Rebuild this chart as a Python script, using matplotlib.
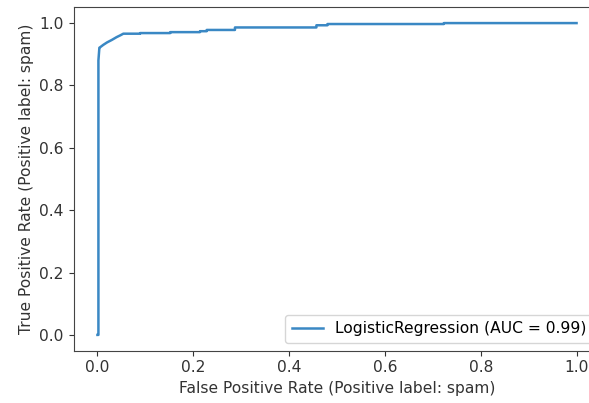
import matplotlib
matplotlib.use("Agg")
import matplotlib.pyplot as plt

fpr = [0.0, 0.002, 0.002, 0.004, 0.006, 0.012, 0.02, 0.03, 0.04, 0.048, 0.054, 0.089, 0.089,
       0.152, 0.152, 0.214, 0.214, 0.228, 0.228, 0.287, 0.287, 0.457, 0.457, 0.48, 0.48,
       0.723, 0.723, 1.0]
tpr = [0.0, 0.0, 0.88, 0.921, 0.923, 0.930, 0.938, 0.946, 0.955, 0.961, 0.966, 0.966, 0.968,
       0.968, 0.971, 0.971, 0.974, 0.974, 0.978, 0.978, 0.986, 0.986, 0.993, 0.993, 0.997,
       0.997, 1.0, 1.0]
label = "LogisticRegression (AUC = 0.99)"
xlabel = "False Positive Rate (Positive label: spam)"
ylabel = "True Positive Rate (Positive label: spam)"

plt.rcParams['font.size'] = 11.2
fig = plt.figure(figsize=(5.89, 4.03), dpi=100)
ax = fig.add_axes([73.5/589, 52.5/403, 527/589, 343/403])
ax.plot(fpr, tpr, color="#3a88c4", lw=1.8, label=label)
ax.set_xlim(-0.05, 1.05)
ax.set_ylim(-0.05, 1.05)
ax.set_xticks([0, 0.2, 0.4, 0.6, 0.8, 1.0])
ax.set_yticks([0, 0.2, 0.4, 0.6, 0.8, 1.0])
ax.set_xlabel(xlabel, color="#333333")
ax.set_ylabel(ylabel, color="#333333")
ax.tick_params(colors="#333333", labelcolor="#333333")
for s in ax.spines.values():
    s.set_color("#444444")
ax.spines['right'].set_visible(False)
ax.legend(loc="lower right")
fig.savefig("out.png", dpi=100)
